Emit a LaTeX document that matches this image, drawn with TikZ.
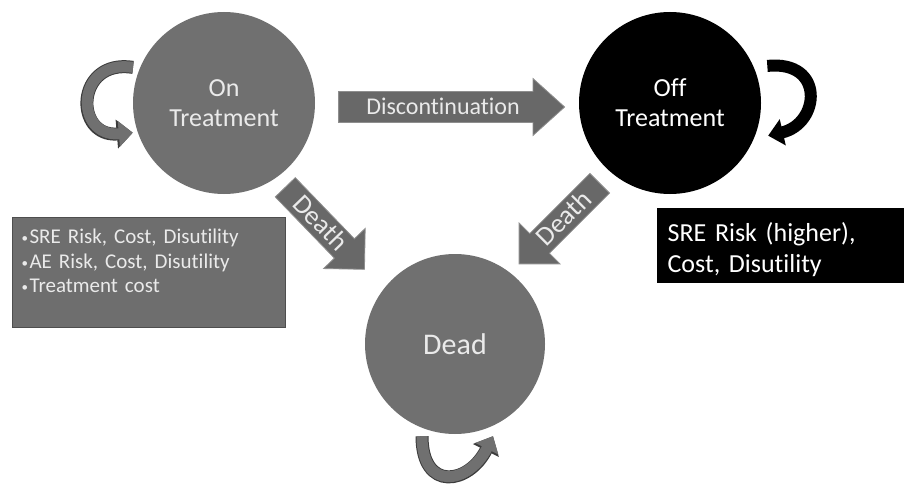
\documentclass[tikz,border=0pt]{standalone}
\usepackage{fontspec}
\setmainfont{Carlito}[Ligatures=NoCommon]
\usetikzlibrary{
  arrows.meta,
  positioning,
  shapes.arrows
}
\definecolor{ink}{HTML}{EAEAEA}
\definecolor{stategray}{HTML}{707070}
\definecolor{arrowgray}{HTML}{686868}
\definecolor{arrowedge}{HTML}{8E8E8E}
\definecolor{boxgray}{HTML}{6E6E6E}
\definecolor{boxedge}{HTML}{4E4E4E}
\definecolor{loopedge}{HTML}{3C3C3C}
\newcommand{\attrbullet}{{\fontsize{13}{13}\selectfont\raisebox{1pt}{•}}\hspace{1.5pt}}

\begin{document}
\begin{tikzpicture}[
  x=1pt, y=1pt,
  statenode/.style={
    circle,
    fill=stategray,
    minimum size=182pt,
    inner sep=0pt,
    align=center,
    text=ink,
    font=\fontsize{26}{30}\selectfont
  },
  blockarrow/.style={
    single arrow,
    fill=arrowgray,
    draw=arrowedge,
    line width=0.8pt,
    single arrow head indent=0pt,
    inner xsep=4pt,
    text=ink,
    font=\fontsize{24}{24}\selectfont
  },
  flowarrow/.style={
    blockarrow,
    minimum height=226pt,
    single arrow head extend=13pt,
    single arrow tip angle=84,
    text height=18pt,
    text depth=2pt,
    inner ysep=5pt
  },
  deatharrow/.style={
    blockarrow,
    minimum height=114pt,
    single arrow head extend=15pt,
    single arrow tip angle=90,
    font=\fontsize{27}{27}\selectfont,
    text height=17pt,
    text depth=1pt,
    inner ysep=4.5pt
  },
  infobox/.style={
    rectangle,
    anchor=north west,
    align=left,
    fill=boxgray,
    draw=boxedge,
    line width=1.2pt,
    inner xsep=9pt,
    inner ysep=7pt,
    text=ink,
    font=\fontsize{21}{24.5}\selectfont
  },
  loopgray/.style={
    line width=11pt,
    draw=stategray,
    -{Triangle[length=14pt,width=25pt]},
    preaction={draw=loopedge, line width=13pt, -{Triangle[length=16pt,width=28pt]}}
  },
  loopblack/.style={
    line width=12pt,
    draw=black,
    -{Triangle[length=15pt,width=26pt]}
  }
]
\useasboundingbox (0,0) rectangle (904,483);

% States
\node[statenode] (on) at (224,380) {On\\Treatment};
\node[statenode, fill=black, text=white] (off) at (670,380) {Off\\Treatment};
\node[statenode, minimum size=180pt, font=\fontsize{30}{30}\selectfont] (dead) at (455,139) {Dead};

% Transitions
\node[flowarrow, anchor=tail] (discont) at ([shift={(23pt,-4pt)}]on.east) {Discontinuation};
\node[deatharrow, anchor=tail, rotate=-46] (deathon) at (285,296) {Death};
\node[deatharrow, anchor=tail, rotate=45, shape border rotate=180] (deathoff) at (600,300) {Death};

% Staying in the same state
\draw[loopgray] ([xshift=-7pt]on.157) .. controls +(-58,9) and +(-59,-5) .. ([xshift=-5pt]on.199);
\draw[loopblack] ([xshift=14pt]off.24) .. controls +(58,6) and +(52,12) .. ([xshift=13pt]off.-21);
\draw[loopgray] ([shift={(-33pt,-2pt)}]dead.south) .. controls +(0,-56) and +(-24,-48) .. ([shift={(38pt,-2pt)}]dead.south);

% State attributes
\node[infobox, text width=255pt, text height=19pt, text depth=77pt] (onattr) at (12,266)
  {\attrbullet SRE Risk, Cost, Disutility\\\attrbullet AE Risk, Cost, Disutility\\\attrbullet Treatment cost};
\node[infobox, fill=black, draw=black, text=white, font=\fontsize{26}{31}\selectfont,
  text width=227pt, inner xsep=10pt, inner ysep=6pt, text height=27pt, text depth=35pt] (offattr) at (657,275)
  {SRE Risk (higher),\\Cost, Disutility};

\end{tikzpicture}
\end{document}
